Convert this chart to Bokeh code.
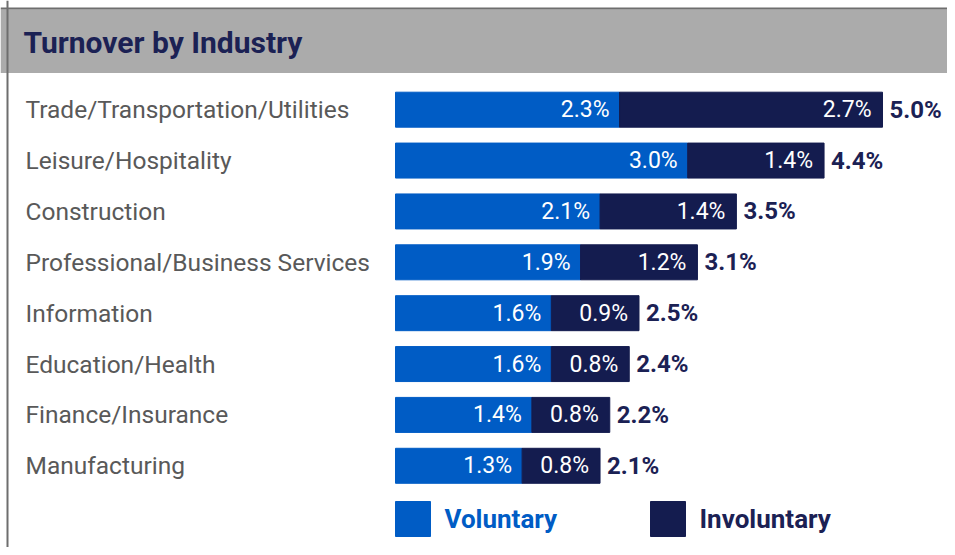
from bokeh.plotting import figure
from bokeh.models import ColumnDataSource, Range1d, BoxAnnotation, Span
from bokeh.core.properties import value
from bokeh.embed import file_html
from bokeh.resources import INLINE

# ---- data ----
industries = ["Trade/Transportation/Utilities", "Leisure/Hospitality", "Construction",
              "Professional/Business Services", "Information", "Education/Health",
              "Finance/Insurance", "Manufacturing"]
voluntary = [2.3, 3.0, 2.1, 1.9, 1.6, 1.6, 1.4, 1.3]
involuntary = [2.7, 1.4, 1.4, 1.2, 0.9, 0.8, 0.8, 0.8]
totals = [5.0, 4.4, 3.5, 3.1, 2.5, 2.4, 2.2, 2.1]
series_names = ["Voluntary", "Involuntary"]
title_text = "Turnover by Industry"

# ---- styling / layout ----
W, H = 947, 547
VOL_C = "#005cc5"
INV_C = "#141c4f"
NAVY = "#1b2154"
GRAY_TXT = "#595959"
FONT = "Roboto"

PX_X = 97.4          # px per percent
X0_PX = 395          # px position of 0%
PX_Y = 50.87         # px per row
Y0_PX = 109.2        # px position of first row centre

def dx(px):
    return px / PX_X

def ypx(px):
    return (px - Y0_PX) / PX_Y

def xpx(px):
    return (px - X0_PX) / PX_X

x_start = -X0_PX / PX_X
x_end = (W - X0_PX) / PX_X
y_top = -Y0_PX / PX_Y
y_bot = (H - Y0_PX) / PX_Y

p = figure(width=W, height=H, output_backend="svg", toolbar_location=None,
           x_range=Range1d(x_start, x_end), y_range=Range1d(y_bot, y_top),
           x_axis_type=None, y_axis_type=None, min_border=0,
           outline_line_color=None, background_fill_color="white",
           border_fill_color="white")
p.grid.visible = False

rows = list(range(len(industries)))
left_inv = voluntary
right_inv = [v + i for v, i in zip(voluntary, involuntary)]
src = ColumnDataSource(dict(
    y=rows, vol=voluntary, inv_l=left_inv, inv_r=right_inv, tot=totals, ind=industries,
    vol_lab=[f"{v:.1f}%" for v in voluntary],
    inv_lab=[f"{v:.1f}%" for v in involuntary],
    tot_lab=[f"{v:.1f}%" for v in totals],
    vol_lx=[v - dx(10) for v in voluntary],
    inv_lx=[r - dx(11) for r in right_inv],
    tot_lx=[r + dx(7) for r in right_inv],
    cat_x=[xpx(25)] * len(industries),
))

bar_h = 35 / PX_Y

# header band and frame lines
p.add_layout(BoxAnnotation(top=ypx(9), bottom=ypx(72.5), fill_color="#ababab",
                           fill_alpha=1, line_color=None, level="underlay"))
p.add_layout(Span(location=ypx(8), dimension="width", line_color="#6e6e6e", line_width=2))
p.add_layout(Span(location=xpx(7), dimension="height", line_color="#6e6e6e", line_width=2))

p.text(x=[xpx(23)], y=[ypx(42)], text=[title_text], text_font=value(FONT),
       text_font_size="30px", text_font_style="bold", text_color=NAVY,
       text_baseline="middle", text_align="left")

# bars
p.hbar(y="y", left=0, right="vol", height=bar_h, color=VOL_C, source=src)
p.hbar(y="y", left="inv_l", right="inv_r", height=bar_h, color=INV_C, source=src)

# labels
p.text(x="cat_x", y="y", text="ind", source=src, text_font=value(FONT),
       text_font_size="24.5px", text_color=GRAY_TXT, text_baseline="middle", text_align="left")
p.text(x="vol_lx", y="y", text="vol_lab", source=src, text_font=value(FONT),
       text_font_size="23px", text_color="white", text_baseline="middle", text_align="right")
p.text(x="inv_lx", y="y", text="inv_lab", source=src, text_font=value(FONT),
       text_font_size="23px", text_color="white", text_baseline="middle", text_align="right")
p.text(x="tot_lx", y="y", text="tot_lab", source=src, text_font=value(FONT),
       text_font_size="24px", text_font_style="bold", text_color=NAVY,
       text_baseline="middle", text_align="left")

# legend
leg_y = ypx(518.5)
sq = 35
leg_x_px = [395, 650]
leg_txt_x = [444, 699]
leg_cols = [VOL_C, INV_C]
leg_txt_cols = [VOL_C, NAVY]
for name, xp, tx, c, tc in zip(series_names, leg_x_px, leg_txt_x, leg_cols, leg_txt_cols):
    p.rect(x=[xpx(xp + sq / 2)], y=[leg_y], width=sq, height=sq, width_units="screen",
           height_units="screen", color=c)
    p.text(x=[xpx(tx)], y=[leg_y], text=[name], text_font=value(FONT),
           text_font_size="26px", text_font_style="bold", text_color=tc,
           text_baseline="middle", text_align="left")

open("out.html", "w").write(file_html(p, INLINE))
